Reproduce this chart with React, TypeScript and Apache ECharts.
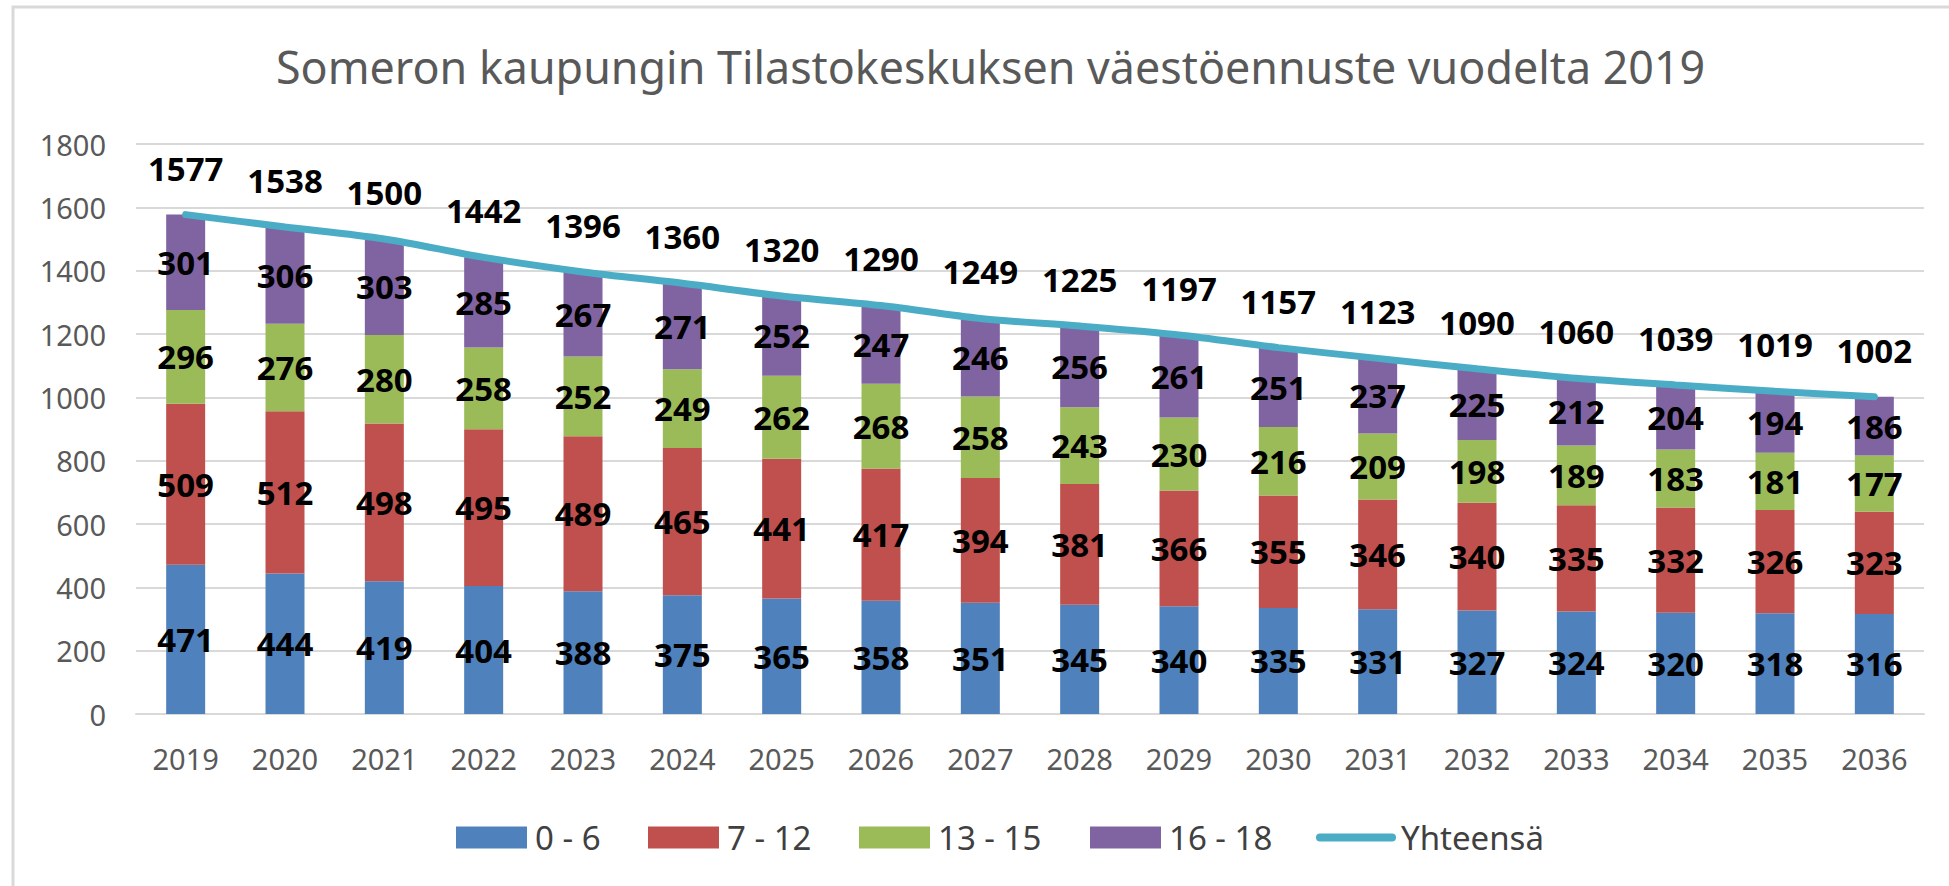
import React, { useEffect, useRef } from "react";
import * as echarts from "echarts";

const years = ["2019","2020","2021","2022","2023","2024","2025","2026","2027","2028","2029","2030","2031","2032","2033","2034","2035","2036"];
const age0to6 = [471,444,419,404,388,375,365,358,351,345,340,335,331,327,324,320,318,316];
const age7to12 = [509,512,498,495,489,465,441,417,394,381,366,355,346,340,335,332,326,323];
const age13to15 = [296,276,280,258,252,249,262,268,258,243,230,216,209,198,189,183,181,177];
const age16to18 = [301,306,303,285,267,271,252,247,246,256,261,251,237,225,212,204,194,186];
const totals = [1577,1538,1500,1442,1396,1360,1320,1290,1249,1225,1197,1157,1123,1090,1060,1039,1019,1002];
const seriesNames = ["0 - 6", "7 - 12", "13 - 15", "16 - 18", "Yhteensä"];
const colors = ["#4F81BD", "#C0504D", "#9BBB59", "#8064A2", "#4BACC6"];
const titleText = "Someron kaupungin Tilastokeskuksen väestöennuste vuodelta 2019";

const FONT = "'Noto Sans', sans-serif";
const legendLefts = [451, 643, 854, 1085, 1311];

export default function App() {
  const ref = useRef<HTMLDivElement>(null);
  useEffect(() => {
    document.body.style.margin = "0";
    const chart = echarts.init(ref.current!, null, { renderer: "svg" });
    const barLabel = {
      show: true,
      position: "inside",
      color: "#000000",
      fontFamily: FONT,
      fontWeight: "bold",
      fontSize: 33,
    };
    const barData = [age0to6, age7to12, age13to15, age16to18];
    const bars = barData.map((d, i) => ({
      name: seriesNames[i],
      type: "bar",
      stack: "total",
      data: d,
      barWidth: 39,
      itemStyle: { color: colors[i] },
      label: barLabel,
    }));
    const legends = seriesNames.map((n, i) => ({
      left: legendLefts[i],
      top: 816,
      itemWidth: i < 4 ? 71 : 80,
      itemHeight: 22,
      symbolKeepAspect: true,
      selectedMode: false,
      data: [
        i < 4
          ? { name: n, icon: "rect" }
          : { name: n, icon: "path://M4,0 L76,0 A4,4 0 0 1 76,8 L4,8 A4,4 0 0 1 4,0 Z", itemStyle: { color: colors[4] } },
      ],
      textStyle: { fontFamily: FONT, fontSize: 33, color: "#404040", padding: i < 4 ? [0, 0, 0, 3] : 0 },
    }));
    chart.setOption({
      animation: false,
      backgroundColor: "#ffffff",
      textStyle: { fontFamily: FONT },
      title: {
        text: titleText,
        left: 271,
        top: 39,
        textStyle: { fontFamily: FONT, fontSize: 44.8, fontWeight: "normal", color: "#595959" },
      },
      graphic: [
        {
          type: "rect",
          shape: { x: 13, y: 7, width: 2000, height: 1000 },
          style: { fill: "none", stroke: "#D9D9D9", lineWidth: 3 },
          silent: true,
          z: -10,
        },
      ],
      legend: legends,
      grid: { left: 136, right: 25, top: 144, bottom: 172, containLabel: false },
      xAxis: {
        type: "category",
        data: years,
        axisTick: { show: false },
        axisLine: { lineStyle: { color: "#D9D9D9", width: 2 } },
        axisLabel: { fontFamily: FONT, fontSize: 29, color: "#595959", margin: 30 },
      },
      yAxis: {
        type: "value",
        min: 0,
        max: 1800,
        interval: 200,
        axisLine: { show: false },
        axisTick: { show: false },
        splitLine: { lineStyle: { color: "#D9D9D9", width: 2 } },
        axisLabel: {
          fontFamily: FONT,
          fontSize: 29,
          color: "#595959",
          margin: 30,
          formatter: (v: number) => String(v),
        },
      },
      series: [
        ...bars,
        {
          name: seriesNames[4],
          type: "line",
          data: totals,
          smooth: 0.3,
          symbol: "circle",
          symbolSize: 0.1,
          showSymbol: true,
          lineStyle: { color: colors[4], width: 7, cap: "round" },
          itemStyle: { color: colors[4] },
          label: {
            show: true,
            position: "top",
            distance: 30,
            color: "#000000",
            fontFamily: FONT,
            fontWeight: "bold",
            fontSize: 33,
          },
          z: 5,
        },
      ],
    });
    return () => chart.dispose();
  }, []);
  return <div ref={ref} style={{ position: "absolute", left: 0, top: 0, width: 1949, height: 886 }} />;
}
